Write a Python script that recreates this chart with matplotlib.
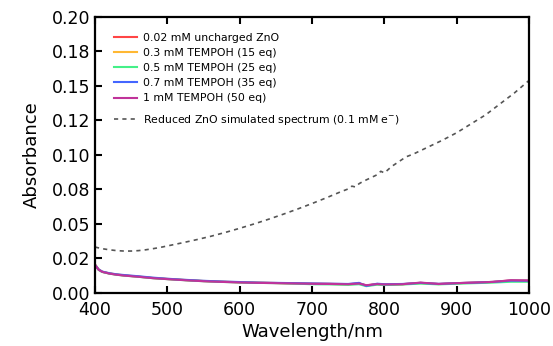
"""
Absorbance spectra of ZnO with added TEMPOH, compared with the
simulated spectrum of reduced ZnO.
"""

import matplotlib
matplotlib.use("Agg")
import matplotlib.pyplot as plt

# Simulated spectrum of reduced ZnO (0.1 mM e-)
sim_wl = [400, 410, 420, 430, 440, 450, 460, 470, 480, 490, 500, 520, 540, 560,
          580, 600, 620, 640, 660, 680, 700, 720, 740, 750, 755, 760, 765, 770,
          780, 790, 795, 800, 810, 820, 830, 840, 850, 860, 880, 900, 920, 940,
          960, 980, 1000]
sim_abs = [0.0330, 0.0318, 0.0310, 0.0304, 0.0301, 0.0301, 0.0304, 0.0310,
           0.0318, 0.0327, 0.0338, 0.0360, 0.0383, 0.0408, 0.0436, 0.0466,
           0.0498, 0.0532, 0.0568, 0.0606, 0.0646, 0.0688, 0.0732, 0.0752,
           0.0772, 0.0766, 0.0790, 0.0805, 0.0830, 0.0855, 0.0880, 0.0868,
           0.0915, 0.0950, 0.0985, 0.1005, 0.1030, 0.1055, 0.1105, 0.1160,
           0.1225, 0.1290, 0.1370, 0.1450, 0.1540]

# Measured spectra
wl = [400, 405, 410, 420, 430, 440, 460, 480, 500, 525, 550, 575, 600, 625,
      650, 675, 700, 725, 750, 765, 775, 790, 800, 825, 850, 875, 900, 925,
      950, 975, 1000]
abs_zno = [0.0200, 0.0166, 0.0150, 0.0138, 0.0130, 0.0124, 0.0115, 0.0105,
           0.0098, 0.0090, 0.0083, 0.0078, 0.0074, 0.0071, 0.0069, 0.0066,
           0.0064, 0.0063, 0.0061, 0.0066, 0.0052, 0.0062, 0.0058, 0.0061,
           0.0070, 0.0062, 0.0068, 0.0072, 0.0077, 0.0088, 0.0086]
abs_03 = [0.0205, 0.0168, 0.0151, 0.0139, 0.0131, 0.0125, 0.0116, 0.0106,
          0.0099, 0.0091, 0.0084, 0.0079, 0.0075, 0.0071, 0.0069, 0.0067,
          0.0063, 0.0062, 0.0059, 0.0064, 0.0050, 0.0060, 0.0057, 0.0060,
          0.0068, 0.0061, 0.0067, 0.0071, 0.0076, 0.0085, 0.0084]
abs_05 = [0.0198, 0.0164, 0.0149, 0.0137, 0.0129, 0.0123, 0.0114, 0.0104,
          0.0097, 0.0089, 0.0082, 0.0077, 0.0073, 0.0070, 0.0068, 0.0065,
          0.0060, 0.0059, 0.0056, 0.0060, 0.0046, 0.0057, 0.0054, 0.0058,
          0.0065, 0.0059, 0.0064, 0.0068, 0.0072, 0.0078, 0.0078]
abs_07 = [0.0202, 0.0168, 0.0152, 0.0140, 0.0132, 0.0127, 0.0118, 0.0108,
          0.0100, 0.0092, 0.0085, 0.0080, 0.0076, 0.0072, 0.0070, 0.0068,
          0.0066, 0.0064, 0.0062, 0.0070, 0.0048, 0.0064, 0.0060, 0.0062,
          0.0070, 0.0063, 0.0068, 0.0072, 0.0077, 0.0086, 0.0085]
abs_1 = [0.0200, 0.0165, 0.0150, 0.0137, 0.0129, 0.0123, 0.0114, 0.0104,
         0.0097, 0.0089, 0.0082, 0.0077, 0.0073, 0.0070, 0.0068, 0.0066,
         0.0063, 0.0062, 0.0060, 0.0065, 0.0053, 0.0061, 0.0058, 0.0060,
         0.0072, 0.0062, 0.0068, 0.0072, 0.0077, 0.0089, 0.0087]

series_labels = ["0.02 mM uncharged ZnO", "0.3 mM TEMPOH (15 eq)",
                 "0.5 mM TEMPOH (25 eq)", "0.7 mM TEMPOH (35 eq)",
                 "1 mM TEMPOH (50 eq)"]
series_colors = ["#ff4545", "#ffb833", "#44f088", "#4466ff", "#c0339a"]
sim_label = "Reduced ZnO simulated spectrum (0.1 mM e$^{-}$)"

x_ticks = [400, 500, 600, 700, 800, 900, 1000]
y_ticks = [0.0, 0.025, 0.05, 0.075, 0.1, 0.125, 0.15, 0.175, 0.2]
y_tick_labels = ["0.00", "0.02", "0.05", "0.08", "0.10", "0.12", "0.15", "0.18", "0.20"]

plt.rcParams["font.family"] = ["DejaVu Sans"]

fig = plt.figure(figsize=(5.53, 3.46), dpi=100)
ax = fig.add_axes([0.1718, 0.1546, 0.785, 0.7963])

handles = []
for vals, lab, col in zip([abs_zno, abs_03, abs_05, abs_07, abs_1], series_labels, series_colors):
    h, = ax.plot(wl, vals, color=col, linewidth=1.5, label=lab)
    handles.append(h)

sim_line, = ax.plot(sim_wl, sim_abs, color="#555555", linewidth=1.2,
                    linestyle=(0, (2.5, 2.5)), label=sim_label)

ax.set_xlim(400, 1000)
ax.set_ylim(0, 0.2)
ax.set_xticks(x_ticks)
ax.set_yticks(y_ticks)
ax.set_yticklabels(y_tick_labels)
ax.tick_params(direction="in", length=5, width=1.5, labelsize=12.5, top=True, right=False)
ax.tick_params(axis="x", pad=6)
ax.tick_params(axis="y", pad=3)
for sp in ax.spines.values():
    sp.set_linewidth(1.6)

ax.set_xlabel("Wavelength/nm", fontsize=13, labelpad=3)
ax.set_ylabel("Absorbance", fontsize=13, labelpad=8)

leg1 = ax.legend(handles=handles, loc="upper left", bbox_to_anchor=(0.044, 0.942),
                 frameon=False, fontsize=7.8, borderpad=0, borderaxespad=0,
                 handlelength=2.1, handletextpad=0.6, labelspacing=0.47)
ax.add_artist(leg1)
ax.legend(handles=[sim_line], loc="upper left", bbox_to_anchor=(0.044, 0.653),
          frameon=False, fontsize=7.8, borderpad=0, borderaxespad=0,
          handlelength=2.1, handletextpad=0.6)

fig.savefig("out.png", dpi=100)
